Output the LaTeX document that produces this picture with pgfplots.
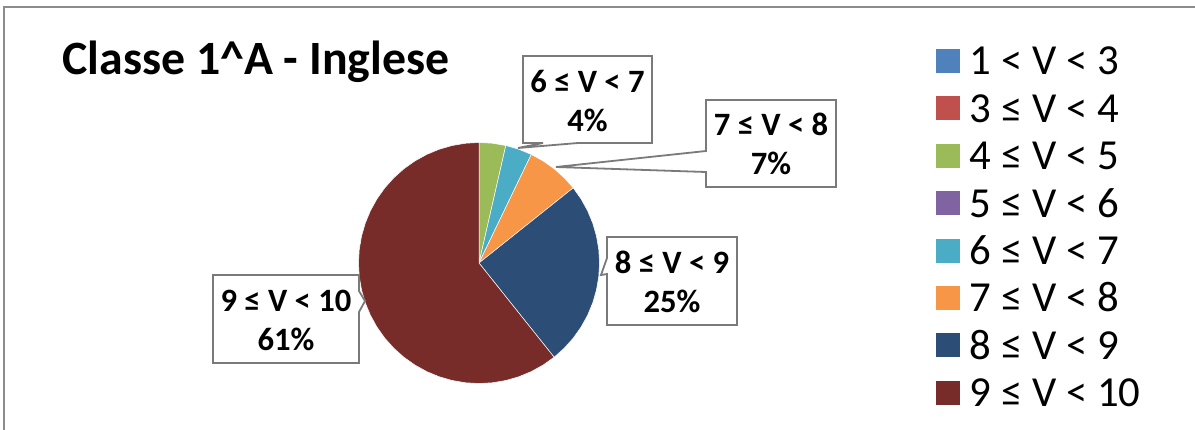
\documentclass[border=0pt]{standalone}
\usepackage{pgfplots}
\pgfplotsset{compat=1.18}
\usepackage{fontspec}
\setmainfont{Carlito}

\definecolor{vblue}{HTML}{4F81BD}
\definecolor{vred}{HTML}{C0504D}
\definecolor{vgreen}{HTML}{9BBB59}
\definecolor{vpurple}{HTML}{8064A2}
\definecolor{vaqua}{HTML}{4BACC6}
\definecolor{vorange}{HTML}{F79646}
\definecolor{vnavy}{HTML}{2C4D75}
\definecolor{vmaroon}{HTML}{772C2A}
\definecolor{framegray}{HTML}{8C8C8C}
\definecolor{boxgray}{HTML}{7A7A7A}

% 28 votes: 4<=V<5: 1, 6<=V<7: 1, 7<=V<8: 2, 8<=V<9: 7, 9<=V<10: 17
% slices start at 12 o'clock and run clockwise, 360/28 deg per vote
\newcommand{\lab}{\fontsize{16.3}{19.5}\selectfont\bfseries}

\begin{document}
\begin{tikzpicture}[x=0.5pt,y=-0.5pt]
\path[use as bounding box] (0,0) rectangle (1195,429);
\draw[framegray, line width=1pt] (4,430) -- (4,7) -- (1196,7);

\begin{axis}[
  at={(239.5pt,-131.5pt)}, anchor=center,
  width=120.5pt, height=120.5pt, scale only axis,
  xmin=-1, xmax=1, ymin=-1, ymax=1,
  hide axis, clip=false,
  legend cell align=left,
  legend image code/.code={\fill[#1,draw=none] (0pt,-6pt) rectangle (12pt,6pt);},
  legend style={
    at={(2.396,1.3954)}, anchor=north west,
    draw=none, fill=none, inner sep=0pt, outer sep=0pt,
    font=\fontsize{21.4}{25}\selectfont,
    row sep=9.9pt,
    nodes={inner sep=0pt, text height=13.8pt, text depth=0pt},
    /tikz/every odd column/.append style={column sep=5pt},
  },
  pie/.style={draw=white, line width=0.25pt, data cs=polar},
]
\addlegendimage{fill=vblue}
\addlegendentry{1 < V < 3}
\addlegendimage{fill=vred}
\addlegendentry{3 ≤ V < 4}

\addplot[pie, fill=vgreen] coordinates {
  (0,0) (90,1) (83.571,1) (77.143,1) (0,0)};
\addlegendentry{4 ≤ V < 5}

\addlegendimage{fill=vpurple}
\addlegendentry{5 ≤ V < 6}

\addplot[pie, fill=vaqua] coordinates {
  (0,0) (77.143,1) (70.714,1) (64.286,1) (0,0)};
\addlegendentry{6 ≤ V < 7}

\addplot[pie, fill=vorange] coordinates {
  (0,0) (64.286,1) (57.857,1) (51.429,1) (45,1) (38.571,1) (0,0)};
\addlegendentry{7 ≤ V < 8}

\addplot[pie, fill=vnavy] coordinates {
  (0,0) (38.571,1) (32.143,1) (25.714,1) (19.286,1) (12.857,1) (6.429,1)
  (0,1) (-6.429,1) (-12.857,1) (-19.286,1) (-25.714,1) (-32.143,1)
  (-38.571,1) (-45,1) (-51.429,1) (0,0)};
\addlegendentry{8 ≤ V < 9}

\addplot[pie, fill=vmaroon] coordinates {
  (0,0) (-51.429,1) (-57.857,1) (-64.286,1) (-70.714,1) (-77.143,1)
  (-83.571,1) (-90,1) (-96.429,1) (-102.857,1) (-109.286,1) (-115.714,1)
  (-122.143,1) (-128.571,1) (-135,1) (-141.429,1) (-147.857,1)
  (-154.286,1) (-160.714,1) (-167.143,1) (-173.571,1) (-180,1)
  (-186.429,1) (-192.857,1) (-199.286,1) (-205.714,1) (-212.143,1)
  (-218.571,1) (-225,1) (-231.429,1) (-237.857,1) (-244.286,1)
  (-250.714,1) (-257.143,1) (-263.571,1) (-270,1) (0,0)};
\addlegendentry{9 ≤ V < 10}
\end{axis}

% title
\node[anchor=base west, inner sep=0pt, font=\fontsize{23.9}{28}\selectfont\bfseries]
  at (62,74) {Classe 1\^{}A - Inglese};

% callout boxes
\tikzset{callout/.style={draw=boxgray, fill=white, line width=0.9pt, line join=miter}}
\path[callout] (523,56) -- (652,56) -- (652,143) -- (578,143) -- (518,148)
  -- (543,143) -- (523,143) -- cycle;
\path[callout] (706,100) -- (836,100) -- (836,187) -- (706,187) -- (706,172)
  -- (556,167) -- (706,151) -- cycle;
\path[callout] (607,237) -- (737,237) -- (737,325) -- (607,325) -- (607,274)
  -- (601,275) -- (607,258) -- cycle;
\path[callout] (213,275) -- (359,275) -- (359,291) -- (365,301) -- (359,312)
  -- (359,363) -- (213,363) -- cycle;

\node[anchor=base, inner sep=0pt, font=\lab] at (587.5,92) {6 ≤ V < 7};
\node[anchor=base, inner sep=0pt, font=\lab] at (587.5,131) {4\%};
\node[anchor=base, inner sep=0pt, font=\lab] at (771,135) {7 ≤ V < 8};
\node[anchor=base, inner sep=0pt, font=\lab] at (771,174) {7\%};
\node[anchor=base, inner sep=0pt, font=\lab] at (672,273) {8 ≤ V < 9};
\node[anchor=base, inner sep=0pt, font=\lab] at (672,312) {25\%};
\node[anchor=base, inner sep=0pt, font=\lab] at (286,311) {9 ≤ V < 10};
\node[anchor=base, inner sep=0pt, font=\lab] at (286,350) {61\%};
\end{tikzpicture}
\end{document}
